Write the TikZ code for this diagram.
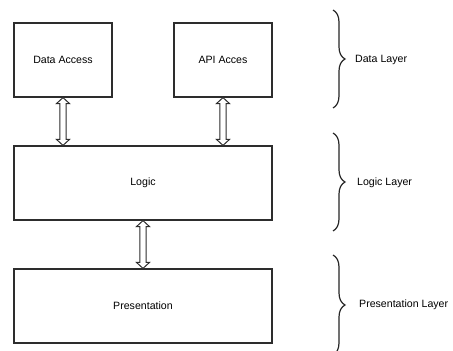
\documentclass[tikz,border=0pt]{standalone}
\usepackage{fontspec}
\setmainfont{Liberation Sans}
\usetikzlibrary{calc,decorations.pathreplacing}
\definecolor{ink}{RGB}{45,45,45}
\tikzset{
  layerbox/.style={draw=ink, line width=1.2pt, fill=white, minimum height=74pt, inner sep=0pt,
    font=\fontsize{10.6}{12}\selectfont},
  % hollow two-headed vertical arrow between two points (start above target)
  dblarrow/.style={to path={let \p1=(\tikztostart), \p2=(\tikztotarget) in
    (\x1,\y1) -- (\x1+6.5pt,\y1-6pt) -- (\x1+3.2pt,\y1-6pt) -- (\x1+3.2pt,\y2+6pt)
    -- (\x1+6.5pt,\y2+6pt) -- (\x2,\y2) -- (\x1-6.5pt,\y2+6pt) -- (\x1-3.2pt,\y2+6pt)
    -- (\x1-3.2pt,\y1-6pt) -- (\x1-6.5pt,\y1-6pt) -- cycle}},
  arrowline/.style={draw=ink, line width=1pt, fill=white, line join=miter},
  bracepath/.style={draw=black!85, line width=1.2pt, decorate,
    decoration={brace, amplitude=12pt}},
  layerlabel/.style={anchor=west, inner sep=0pt, font=\fontsize{10.6}{12}\selectfont}
}
\begin{document}
\begin{tikzpicture}[x=1pt, y=-1pt]
\useasboundingbox (0,0) rectangle (453,351);
\clip (0,0) rectangle (453,351);
\fill[white] (0,0) rectangle (453,351);

% boxes
\node[layerbox, minimum width=98pt] (da) at (63,60) {Data Access};
\node[layerbox, minimum width=98pt] (api) at (223,60) {API Acces};
\node[layerbox, minimum width=258pt] (logic) at (143,183) {Logic};
\node[layerbox, minimum width=258pt] (pres) at (143,306) {Presentation};

% two-headed connectors
\path[arrowline] (da.south) to[dblarrow] (da.south |- logic.north);
\path[arrowline] (api.south) to[dblarrow] (api.south |- logic.north);
\path[arrowline] (logic.south) to[dblarrow] (pres.north);

% layer braces
\coordinate (b1t) at (333,10);  \coordinate (b1b) at (333,108);
\coordinate (b2t) at (333,133); \coordinate (b2b) at (333,231);
\coordinate (b3t) at (333,255); \coordinate (b3b) at (333,355);
\draw[bracepath] (b1t) -- (b1b);
\draw[bracepath] (b2t) -- (b2b);
\draw[bracepath] (b3t) -- (b3b);

\node[layerlabel] (dl) at (355,60) {Data Layer};
\node[layerlabel] (ll) at (357,183) {Logic Layer};
\node[layerlabel] (pl) at (359,305) {Presentation Layer};
\end{tikzpicture}
\end{document}
